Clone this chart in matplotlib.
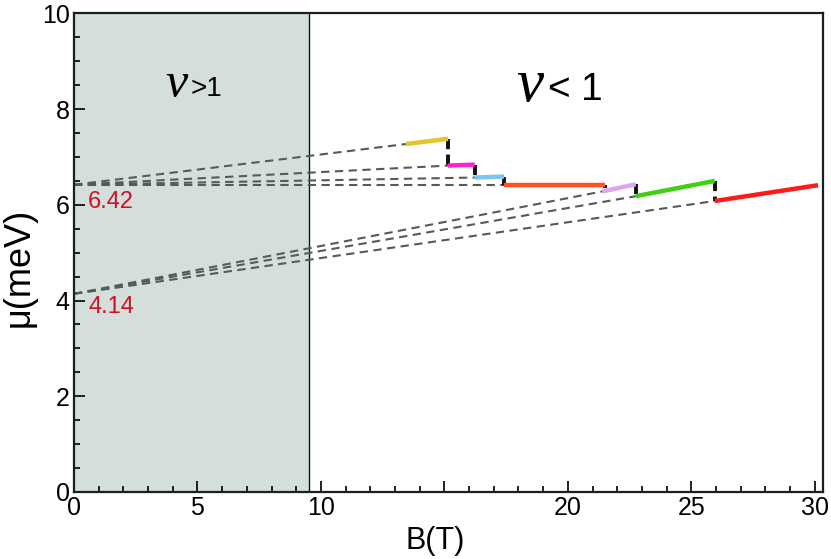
import matplotlib
matplotlib.use("Agg")
import matplotlib.pyplot as plt
from matplotlib.ticker import MultipleLocator, FixedLocator

plt.rcParams['font.family'] = ['Liberation Sans', 'DejaVu Sans']

# ---- data ----
# colored segments: (B_start, mu_start, B_end, mu_end)
seg_names = ["yellow", "magenta", "lightblue", "orange", "violet", "green", "red"]
seg_colors = ["#e6c52a", "#ff22cc", "#7cc4f4", "#ff5020", "#dca6f0", "#3fd016", "#ff1a1a"]
seg_B0 = [13.44, 15.15, 16.23, 17.42, 21.40, 22.75, 25.95]
seg_mu0 = [7.27, 6.82, 6.57, 6.42, 6.28, 6.18, 6.08]
seg_B1 = [15.15, 16.23, 17.42, 21.50, 22.75, 25.95, 30.13]
seg_mu1 = [7.38, 6.84, 6.59, 6.42, 6.43, 6.50, 6.41]

# extrapolation origins
upper_mu0 = 6.42
lower_mu0 = 4.14
upper_idx = [0, 1, 2, 3]
lower_idx = [4, 5, 6]

# vertical jumps: (B, mu_top, mu_bottom)
jump_B = [15.15, 16.23, 17.42, 21.50, 22.75, 25.95]
jump_top = [7.38, 6.84, 6.59, 6.42, 6.43, 6.50]
jump_bot = [6.82, 6.57, 6.42, 6.36, 6.18, 6.08]

nu_boundary = 9.5
xticks_major = [0, 5, 10, 15, 20, 25, 30]
xtick_labels = ["0", "5", "10", "", "20", "25", "30"]
yticks_major = [0, 2, 4, 6, 8, 10]

fig = plt.figure(figsize=(8.31, 5.59), dpi=100)
ax = fig.add_axes([0.089, 0.12, 0.901, 0.856])

ax.set_xlim(0, 30.32)
ax.set_ylim(0, 10)

ax.axvspan(0, nu_boundary, color="#d4dfdc", zorder=0, lw=0)
ax.axvline(nu_boundary, color="#111111", lw=1.0, zorder=1)

dash_kw = dict(color="#555a5a", lw=1.5, dashes=(4, 2.6), zorder=2)
for i in upper_idx:
    ax.plot([0, seg_B0[i]], [upper_mu0, seg_mu0[i]], **dash_kw)
for i in lower_idx:
    ax.plot([0, seg_B0[i]], [lower_mu0, seg_mu0[i]], **dash_kw)

for b, t, bo in zip(jump_B, jump_top, jump_bot):
    ax.plot([b, b], [t, bo], color="#111111", lw=2.8, dashes=(2.6, 1.4), zorder=3)

for c, b0, m0, b1, m1 in zip(seg_colors, seg_B0, seg_mu0, seg_B1, seg_mu1):
    ax.plot([b0, b1], [m0, m1], color=c, lw=3.2, solid_capstyle="butt", zorder=4)

ax.text(0.57, 6.05, "6.42", color="#cc1128", fontsize=17, ha="left", va="center")
ax.text(0.57, 3.87, "4.14", color="#cc1128", fontsize=17, ha="left", va="center")

ax.text(4.13, 8.25, "ν", fontsize=36, family="Liberation Serif", style="italic",
        ha="center", va="baseline")
ax.text(5.38, 8.28, ">1", fontsize=20, ha="center", va="baseline")
ax.text(18.46, 8.17, "ν", fontsize=44, family="Liberation Serif", style="italic",
        ha="center", va="baseline")
ax.text(19.6, 8.2, "<", fontsize=28, ha="center", va="baseline")
ax.text(20.97, 8.2, "1", fontsize=28, ha="center", va="baseline")

ax.xaxis.set_major_locator(FixedLocator(xticks_major))
ax.set_xticklabels(xtick_labels)
ax.xaxis.set_minor_locator(MultipleLocator(1))
ax.yaxis.set_major_locator(FixedLocator(yticks_major))
ax.yaxis.set_minor_locator(MultipleLocator(0.5))
ax.tick_params(which="both", direction="in", top=False, right=False, width=1.3, color="#111111")
ax.tick_params(which="major", length=8, labelsize=18, pad=3)
ax.tick_params(which="minor", length=4)

for s in ax.spines.values():
    s.set_linewidth(1.6)
    s.set_color("#1a1f1f")

ax.set_xlabel("B(T)", fontsize=22, labelpad=0)
ax.set_ylabel("μ(meV)", fontsize=26, labelpad=2)
ax.xaxis.set_label_coords(0.483, -0.072)
ax.yaxis.set_label_coords(-0.05, 0.47)

fig.savefig("out.png", dpi=100)
